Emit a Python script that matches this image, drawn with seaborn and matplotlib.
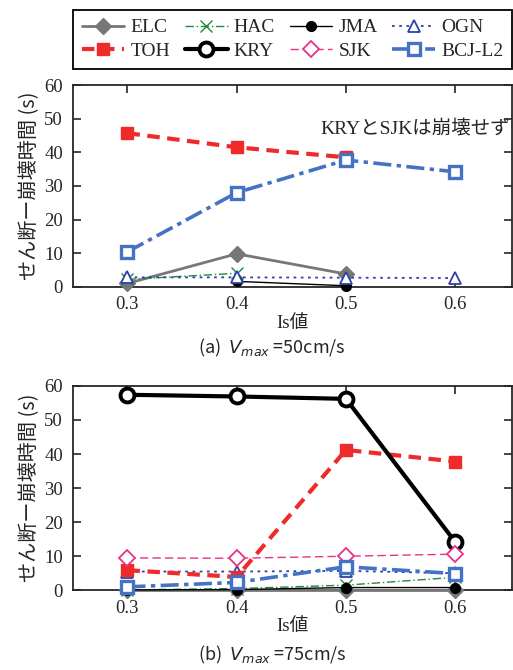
import pandas as pd
import seaborn as sns
import matplotlib.pyplot as plt
from matplotlib.lines import Line2D

# Is values on the x axis
is_vals = [0.3, 0.4, 0.5, 0.6]

# (a) Vmax = 50 cm/s  (None = no collapse / no point)
a_ELC = [1.0, 9.8, 3.8, None]
a_HAC = [2.2, 4.0, None, None]
a_JMA = [None, 1.6, 0.3, None]
a_OGN = [2.8, 2.8, 2.7, 2.6]
a_TOH = [45.7, 41.5, 38.5, None]
a_BCJ = [10.4, 28.0, 37.7, 34.2]

# (b) Vmax = 75 cm/s
b_ELC = [0.0, 0.0, 0.0, 0.0]
b_HAC = [0.1, 0.5, 1.5, 3.8]
b_JMA = [0.1, 0.2, 0.8, 0.8]
b_OGN = [5.5, 5.5, 5.7, 5.0]
b_TOH = [5.9, 3.9, 41.2, 37.8]
b_KRY = [57.4, 56.9, 56.2, 14.2]
b_SJK = [9.5, 9.4, 10.0, 10.6]
b_BCJ = [1.0, 2.3, 6.9, 4.9]

series_a = {"ELC": a_ELC, "HAC": a_HAC, "JMA": a_JMA, "OGN": a_OGN,
            "TOH": a_TOH, "BCJ-L2": a_BCJ}
series_b = {"ELC": b_ELC, "HAC": b_HAC, "JMA": b_JMA, "OGN": b_OGN,
            "TOH": b_TOH, "KRY": b_KRY, "SJK": b_SJK, "BCJ-L2": b_BCJ}

# style per series: color, linestyle, lw, marker, markersize, facecolor, mew
styles = {
    "ELC": ("#777777", "-", 2.0, "D", 8, "#777777", 1.0),
    "HAC": ("#1e8a3c", (0, (6, 2, 1, 2)), 1.0, "x", 8, "none", 1.0),
    "JMA": ("black", "-", 1.0, "o", 7, "black", 1.0),
    "OGN": ("#2f3fa8", (0, (1.5, 2.5)), 1.3, "^", 9, "white", 1.3),
    "TOH": ("#ee2a2a", (0, (3, 1.8)), 3.0, "s", 9, "#ee2a2a", 1.0),
    "KRY": ("black", "-", 3.0, "o", 10, "white", 2.8),
    "SJK": ("#e8328a", (0, (6, 3)), 1.0, "D", 8, "white", 1.3),
    "BCJ-L2": ("#4472c4", (0, (5, 1.5, 1.2, 1.5)), 2.6, "s", 8.5, "white", 2.4),
}
order = ["ELC", "HAC", "JMA", "OGN", "TOH", "KRY", "SJK", "BCJ-L2"]

sns.set_style("ticks")
plt.rcParams['font.family'] = ['Liberation Serif', 'Noto Sans CJK JP']
plt.rcParams['mathtext.fontset'] = 'dejavusans'

fig = plt.figure(figsize=(5.13, 6.7), dpi=100)
ax_a = fig.add_axes([0.142, 0.572, 0.856, 0.301])
ax_b = fig.add_axes([0.142, 0.119, 0.856, 0.305])


def draw(ax, series):
    for name in order:
        if name not in series:
            continue
        df = pd.DataFrame({"Is": is_vals, "t": series[name]}).dropna()
        c, ls, lw, mk, ms, fc, mew = styles[name]
        sns.lineplot(data=df, x="Is", y="t", ax=ax, color=c, linestyle=ls,
                     linewidth=lw, marker=mk, markersize=ms,
                     markerfacecolor=fc, markeredgecolor=c,
                     markeredgewidth=mew, clip_on=False, zorder=3)
    ax.set_xlim(0.25, 0.652)
    ax.set_ylim(0, 60)
    ax.set_xticks(is_vals)
    ax.set_xticklabels(["0.3", "0.4", "0.5", "0.6"])
    ax.set_yticks(range(0, 61, 10))
    ax.tick_params(direction="in", top=True, right=True, labelsize=13.5,
                   length=6, width=1.2, pad=7)
    for s in ax.spines.values():
        s.set_linewidth(1.3)
    ax.set_xlabel("Is値", fontsize=13.5, labelpad=1)
    ax.set_ylabel("せん断ー崩壊時間 (s)", fontsize=14.5,
                  family=['Noto Sans CJK JP'], labelpad=3)


draw(ax_a, series_a)
draw(ax_b, series_b)

ax_a.text(0.995, 0.78, "KRYとSJKは崩壊せず", transform=ax_a.transAxes,
          ha="right", va="center", fontsize=14)

fig.text(0.53, 0.481, "(a)  $V_{max}$ =50cm/s", ha="center", va="center",
         fontsize=13, family=['Noto Sans CJK JP'])
fig.text(0.53, 0.022, "(b)  $V_{max}$ =75cm/s", ha="center", va="center",
         fontsize=13, family=['Noto Sans CJK JP'])

# legend filled row by row: matplotlib fills columns, so reorder
leg_order = [order[i] for i in (0, 4, 1, 5, 2, 6, 3, 7)]
handles = []
for name in leg_order:
    c, ls, lw, mk, ms, fc, mew = styles[name]
    handles.append(Line2D([], [], color=c, linestyle=ls, linewidth=lw,
                          marker=mk, markersize=ms, markerfacecolor=fc,
                          markeredgecolor=c, markeredgewidth=mew))
leg = fig.legend(handles, leg_order, ncol=4, loc="upper left",
                 bbox_to_anchor=(0.142, 0.888, 0.856, 0.097), mode="expand",
                 fontsize=14, frameon=True, fancybox=False, edgecolor="black",
                 handlelength=2.2, handletextpad=0.3, columnspacing=0.5,
                 borderpad=0.45, labelspacing=0.3, framealpha=1,
                 borderaxespad=0)
leg.get_frame().set_linewidth(1.3)

fig.savefig("out.png", dpi=100)
